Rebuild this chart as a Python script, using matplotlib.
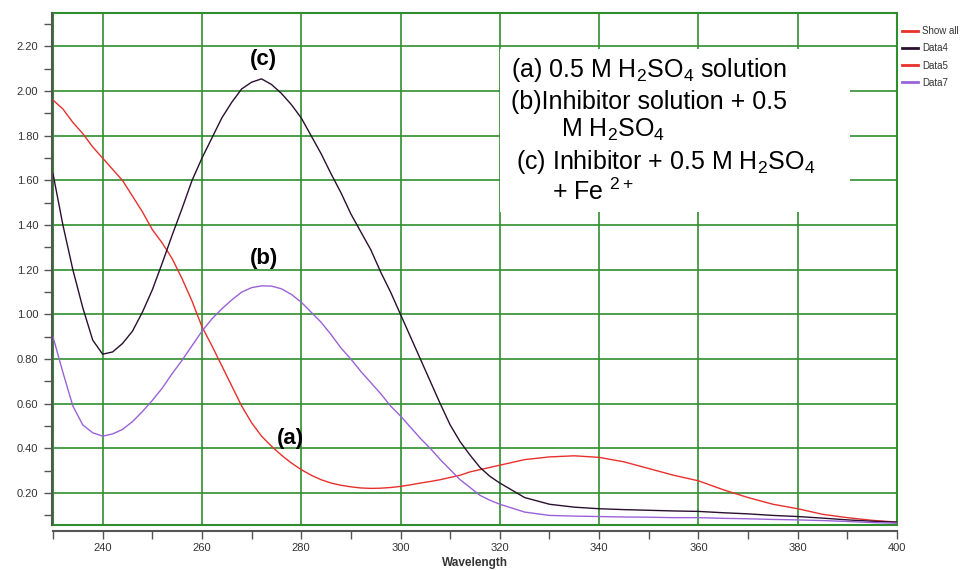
import matplotlib
matplotlib.use('Agg')
import matplotlib.pyplot as plt
from matplotlib.lines import Line2D
from matplotlib.patches import Rectangle
from matplotlib.ticker import MultipleLocator, FormatStrFormatter

plt.rcParams['font.family'] = ['Liberation Sans', 'DejaVu Sans']
plt.rcParams['mathtext.fontset'] = 'custom'
plt.rcParams['mathtext.rm'] = 'Liberation Sans'
plt.rcParams['mathtext.it'] = 'Liberation Sans:italic'

# wavelength grid (nm)
wavelength = list(range(230, 321, 2)) + list(range(325, 401, 5))

# (a) 0.5 M H2SO4 -> Data5 (red)
data5 = [1.96, 1.92, 1.86, 1.81, 1.75, 1.70, 1.65, 1.60, 1.53, 1.46,
         1.38, 1.32, 1.25, 1.16, 1.06, 0.945, 0.86, 0.77, 0.68, 0.59,
         0.515, 0.455, 0.41, 0.37, 0.335, 0.305, 0.28, 0.26, 0.245, 0.235,
         0.228, 0.223, 0.221, 0.222, 0.225, 0.23, 0.237, 0.245, 0.252, 0.26,
         0.27, 0.28, 0.295, 0.305, 0.315, 0.325,
         0.35, 0.362, 0.367, 0.36, 0.34, 0.31, 0.28, 0.255, 0.215, 0.18,
         0.15, 0.13, 0.105, 0.09, 0.078, 0.07]

# (c) inhibitor + H2SO4 + Fe2+ -> Data4 (dark)
data4 = [1.63, 1.40, 1.20, 1.03, 0.885, 0.822, 0.832, 0.87, 0.925, 1.01,
         1.11, 1.23, 1.355, 1.475, 1.60, 1.70, 1.79, 1.88, 1.95, 2.01,
         2.04, 2.055, 2.03, 1.99, 1.94, 1.88, 1.80, 1.72, 1.63, 1.545,
         1.45, 1.37, 1.29, 1.19, 1.10, 1.00, 0.90, 0.80, 0.70, 0.60,
         0.505, 0.43, 0.37, 0.315, 0.275, 0.245,
         0.18, 0.15, 0.137, 0.13, 0.126, 0.123, 0.12, 0.118, 0.112, 0.107,
         0.10, 0.095, 0.088, 0.08, 0.074, 0.07]

# (b) inhibitor + H2SO4 -> Data7 (purple)
data7 = [0.90, 0.74, 0.59, 0.505, 0.47, 0.455, 0.465, 0.485, 0.52, 0.565,
         0.615, 0.67, 0.735, 0.795, 0.86, 0.925, 0.98, 1.025, 1.065, 1.10,
         1.12, 1.128, 1.127, 1.115, 1.09, 1.055, 1.01, 0.965, 0.91, 0.85,
         0.80, 0.745, 0.695, 0.645, 0.59, 0.545, 0.495, 0.445, 0.40, 0.35,
         0.305, 0.26, 0.225, 0.19, 0.168, 0.15,
         0.115, 0.10, 0.097, 0.095, 0.093, 0.092, 0.09, 0.09, 0.087, 0.085,
         0.082, 0.08, 0.077, 0.073, 0.068, 0.065]

legend_labels = ['Show all', 'Data4', 'Data5', 'Data7']
red = '#e8302c'
dark = '#2a1030'
purple = '#9a62d8'
green = '#2f8f2f'

fig = plt.figure(figsize=(9.78, 5.70), dpi=100)
ax = fig.add_axes([0.0542, 0.0789, 0.863, 0.8983])

ax.plot(wavelength, data5, color=red, lw=1.0, zorder=3)
ax.plot(wavelength, data4, color=dark, lw=1.0, zorder=3)
ax.plot(wavelength, data7, color=purple, lw=1.0, zorder=3)

ax.set_xlim(230, 400)
ax.set_ylim(0.057, 2.35)
ax.set_xticks(range(240, 401, 20))
ax.xaxis.set_minor_locator(MultipleLocator(10))
ax.yaxis.set_major_locator(MultipleLocator(0.2))
ax.yaxis.set_minor_locator(MultipleLocator(0.1))
ax.yaxis.set_major_formatter(FormatStrFormatter('%.2f'))

ax.grid(True, which='major', color=green, lw=1.2)
ax.tick_params(which='both', direction='out', colors='#555555', labelcolor='#333333',
               labelsize=8, length=6, width=1)
ax.tick_params(axis='x', pad=3)

for s in ['top', 'right']:
    ax.spines[s].set_visible(False)
for s in ['left', 'bottom']:
    ax.spines[s].set_color('#555555')
    ax.spines[s].set_linewidth(1.5)
ax.spines['left'].set_position(('outward', 1))
ax.spines['bottom'].set_position(('outward', 4))

# green plot frame
ax.add_patch(Rectangle((0, 0), 1, 1, transform=ax.transAxes, fill=False,
                       edgecolor=green, lw=1.5, clip_on=False, zorder=2))

ax.set_xlabel('Wavelength', fontsize=8.5, fontweight='bold', color='#333333', labelpad=3)

# white box behind the annotation text
ax.add_patch(Rectangle((320.1, 1.457), 70.4, 0.733, facecolor='white',
                       edgecolor='none', zorder=1.8))

fs = 18
ax.text(322.2, 2.063, r'(a) 0.5 M H$_2$SO$_4$ solution', fontsize=fs, va='baseline', zorder=4)
ax.text(322.2, 1.921, '(b)Inhibitor solution + 0.5', fontsize=fs, va='baseline', zorder=4)
ax.text(332.3, 1.794, r'M H$_2$SO$_4$', fontsize=fs, va='baseline', zorder=4)
ax.text(323.2, 1.653, r'(c) Inhibitor + 0.5 M H$_2$SO$_4$', fontsize=fs, va='baseline', zorder=4)
ax.text(330.6, 1.511, r'+ Fe $^{2+}$', fontsize=fs, va='baseline', zorder=4)

# curve labels
ax.text(272.4, 2.14, '(c)', fontsize=16, fontweight='bold', ha='center', va='center', zorder=4)
ax.text(272.4, 1.25, '(b)', fontsize=16, fontweight='bold', ha='center', va='center', zorder=4)
ax.text(277.8, 0.445, '(a)', fontsize=16, fontweight='bold', ha='center', va='center', zorder=4)

handles = [Line2D([], [], color=red, lw=2),
           Line2D([], [], color=dark, lw=2),
           Line2D([], [], color=red, lw=2),
           Line2D([], [], color=purple, lw=2)]
leg = fig.legend(handles, legend_labels, loc='upper left', bbox_to_anchor=(902 / 978, 1 - 26 / 570),
                 frameon=False, fontsize=7, handlelength=1.6, handletextpad=0.5,
                 labelspacing=0.75, borderaxespad=0, borderpad=0)
for t in leg.get_texts():
    t.set_color('#333333')

fig.savefig('out.png', dpi=100)
